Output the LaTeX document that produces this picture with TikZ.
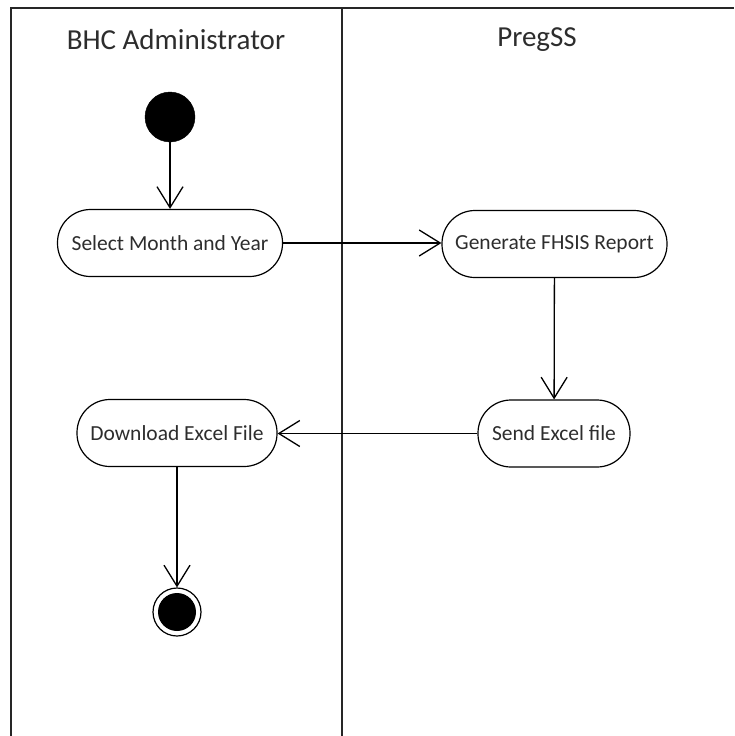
\documentclass[tikz,border=0pt]{standalone}
\usepackage{fontspec}
\setmainfont{Carlito}
\usetikzlibrary{arrows.meta}
\definecolor{txt}{RGB}{45,45,45}
\tikzset{
  act/.style={draw, line width=1.2pt, rounded corners=33pt, minimum height=67pt,
    inner sep=0pt, font=\fontsize{21.5}{24}\selectfont, text=txt},
  lane/.style={line width=2pt, draw=black!85},
  flow/.style={line width=1.3pt, -{Straight Barb[length=21pt,width=26pt,line width=1.3pt]}},
  hdr/.style={font=\fontsize{29}{32}\selectfont, text=txt},
}
\begin{document}
\begin{tikzpicture}[x=1pt,y=-1pt]
\useasboundingbox (0,0) rectangle (734,736);
% swimlane frame
\coordinate (tl) at (11,8);
\coordinate (tr) at (734,8);
\coordinate (bl) at (11,736);
\coordinate (mt) at (342,8);
\coordinate (mb) at (342,736);
\draw[lane] (bl) -- (tl) -- (tr);
\draw[lane] (mt) -- (mb);
% headers
\node[hdr] (h1) at (176,40) {BHC Administrator};
\node[hdr] (h2) at (537,40) {PregSS};
% nodes
\node[circle, fill=black, draw=black, minimum size=50pt, inner sep=0pt] (start) at (170,117) {};
\node[act, minimum width=225pt] (sel) at (170,243) {Select Month and Year};
\node[act, minimum width=225pt] (gen) at (554.5,244) {Generate FHSIS Report};
\node[act, minimum width=152pt] (send) at (554,433.5) {Send Excel file};
\node[act, minimum width=200pt] (dl) at (177,433) {Download Excel File};
\node[circle, draw=black, line width=1.2pt, minimum size=48pt, inner sep=0pt] (end) at (177,612) {};
\node[circle, fill=black, minimum size=38pt, inner sep=0pt] (endin) at (end) {};
% flows
\draw[flow] (start) -- (sel);
\draw[flow] (sel.east) -- (sel.east -| gen.west);
\draw[flow] (gen) -- (send);
\draw[flow] (send.west) -- (send.west -| dl.east);
\draw[flow] (dl) -- (end);
\end{tikzpicture}
\end{document}
